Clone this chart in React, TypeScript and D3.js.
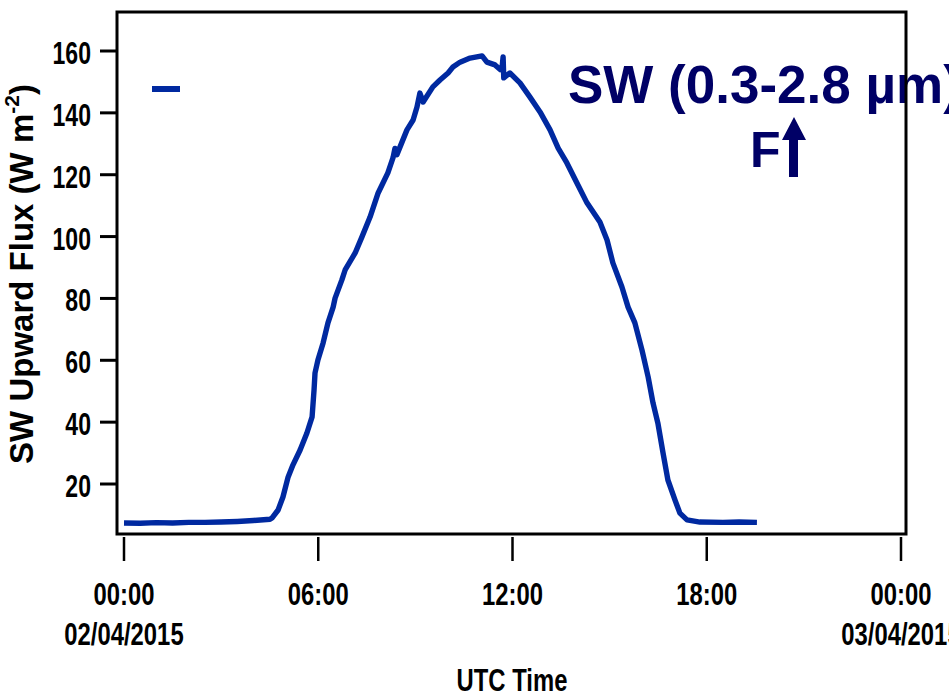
import React from "react";
import * as d3 from "d3";

// Upward shortwave flux, 2 April 2015 (hours UTC, W m-2)
const hours = [
  0, 0.5, 1, 1.5, 2, 2.5, 3, 3.5, 4, 4.51, 4.57, 4.76, 4.91, 5.07, 5.22, 5.44,
  5.65, 5.81, 5.87, 5.9, 5.99, 6.15, 6.3, 6.46, 6.52, 6.73, 6.83, 7.14, 7.35,
  7.6, 7.85, 8.15, 8.31, 8.37, 8.43, 8.74, 8.93, 9.05, 9.14, 9.24, 9.54, 9.76,
  10.01, 10.16, 10.38, 10.69, 11.06, 11.21, 11.46, 11.62, 11.68, 11.71, 11.73,
  11.92, 12.23, 12.54, 12.85, 13.16, 13.41, 13.68, 13.99, 14.3, 14.7, 14.92,
  15.1, 15.38, 15.57, 15.78, 16.0, 16.19, 16.34, 16.49, 16.65, 16.8, 17.02,
  17.17, 17.39, 17.79, 18.5, 19.0, 19.55,
];
const flux = [
  7.4, 7.3, 7.5, 7.4, 7.6, 7.6, 7.7, 7.9, 8.2, 8.6, 9.0, 11.6, 15.8, 22.3, 26.2,
  31.0, 36.5, 41.7, 50.4, 55.9, 60.1, 65.6, 72.1, 77.2, 80.1, 86.0, 89.2, 94.7,
  99.9, 106.3, 114.1, 120.6, 125.5, 128.5, 126.5, 134.5, 137.7, 141.9, 146.4,
  143.5, 148.4, 150.6, 152.9, 154.8, 156.4, 157.7, 158.4, 156.4, 155.5, 154.0,
  155.0, 158.1, 151.3, 152.9, 149.7, 145.1, 140.3, 134.5, 128.6, 123.8, 117.3,
  110.9, 104.7, 98.9, 91.5, 83.7, 77.2, 72.1, 63.3, 54.6, 46.2, 39.7, 30.0,
  21.3, 14.8, 10.6, 8.4, 7.7, 7.6, 7.7, 7.6,
];

const yTicks = [20, 40, 60, 80, 100, 120, 140, 160];
const xTickHours = [0, 6, 12, 18, 24];
const xTickTimes = ["00:00", "06:00", "12:00", "18:00", "00:00"];
const xTickDates = ["02/04/2015", "", "", "", "03/04/2015"];

const W = 949;
const H = 697;
const plot = { left: 117, right: 906, top: 12, bottom: 534 };

const LINE = "#0029a0";
const NAVY = "#000066";
const FONT = "'Liberation Sans', Arial, sans-serif";

// Condensed bold label: Liberation Sans squeezed horizontally
function Cond(props: {
  x: number;
  y: number;
  anchor: "start" | "middle" | "end";
  size?: number;
  sx?: number;
  children: React.ReactNode;
}) {
  const { x, y, anchor, size = 32, sx = 0.745, children } = props;
  return (
    <text
      transform={`translate(${x},${y}) scale(${sx},1)`}
      textAnchor={anchor}
      fontFamily={FONT}
      fontWeight="bold"
      fontSize={size}
      fill="#000"
    >
      {children}
    </text>
  );
}

export default function App() {
  const x = d3.scaleLinear().domain([0, 24]).range([124, 901]);
  const y = d3
    .scaleLinear()
    .domain([160 - (plot.bottom - 51) / 3.0929, 160 + (51 - plot.top) / 3.0929])
    .range([plot.bottom, plot.top]);

  const pts: [number, number][] = hours.map((h, i) => [h, flux[i]]);
  const line = d3
    .line<[number, number]>()
    .x((d) => x(d[0]))
    .y((d) => y(d[1]))
    .curve(d3.curveLinear);

  return (
    <svg
      width={W}
      height={H}
      style={{ position: "absolute", left: 0, top: 0, background: "#fff" }}
    >
      <rect x={0} y={0} width={W} height={H} fill="#fff" />

      {/* flux trace */}
      <path
        d={line(pts) ?? ""}
        fill="none"
        stroke={LINE}
        strokeWidth={5.4}
        strokeLinejoin="round"
        strokeLinecap="butt"
      />

      {/* legend sample */}
      <line x1={152} x2={180} y1={89} y2={89} stroke={LINE} strokeWidth={6} />

      {/* annotation */}
      <text
        x={568}
        y={103}
        fontFamily={FONT}
        fontWeight="bold"
        fontSize={53}
        fill={NAVY}
      >
        SW (0.3-2.8 µm)
      </text>
      <text
        x={750}
        y={167}
        fontFamily={FONT}
        fontWeight="bold"
        fontSize={50}
        fill={NAVY}
      >
        F
      </text>
      <path
        d="M789,177 L789,140 L782,140 L794,117 L806,140 L798,140 L798,177 Z"
        fill={NAVY}
      />

      {/* frame */}
      <rect
        x={plot.left}
        y={plot.top}
        width={plot.right - plot.left}
        height={plot.bottom - plot.top}
        fill="none"
        stroke="#000"
        strokeWidth={3}
      />

      {/* y axis */}
      {yTicks.map((t) => (
        <g key={t}>
          <line
            x1={100}
            x2={plot.left}
            y1={y(t)}
            y2={y(t)}
            stroke="#000"
            strokeWidth={3}
          />
          <Cond x={91} y={y(t) + 13} anchor="end" sx={0.72}>
            {t}
          </Cond>
        </g>
      ))}

      {/* x axis */}
      {xTickHours.map((h, i) => (
        <g key={i}>
          <line
            x1={x(h)}
            x2={x(h)}
            y1={537}
            y2={561}
            stroke="#000"
            strokeWidth={2.5}
          />
          <Cond x={x(h)} y={605} anchor="middle">
            {xTickTimes[i]}
          </Cond>
          {xTickDates[i] && (
            <Cond x={x(h)} y={645} anchor="middle">
              {xTickDates[i]}
            </Cond>
          )}
        </g>
      ))}

      <Cond x={512} y={691} anchor="middle">
        UTC Time
      </Cond>

      {/* y axis title */}
      <text
        transform="translate(33,274) rotate(-90)"
        textAnchor="middle"
        fontFamily={FONT}
        fontWeight="bold"
        fontSize={33}
        fill="#000"
      >
        SW Upward Flux (W m
        <tspan fontSize={21} dy={-14}>
          -2
        </tspan>
        <tspan dy={14}>)</tspan>
      </text>
    </svg>
  );
}
